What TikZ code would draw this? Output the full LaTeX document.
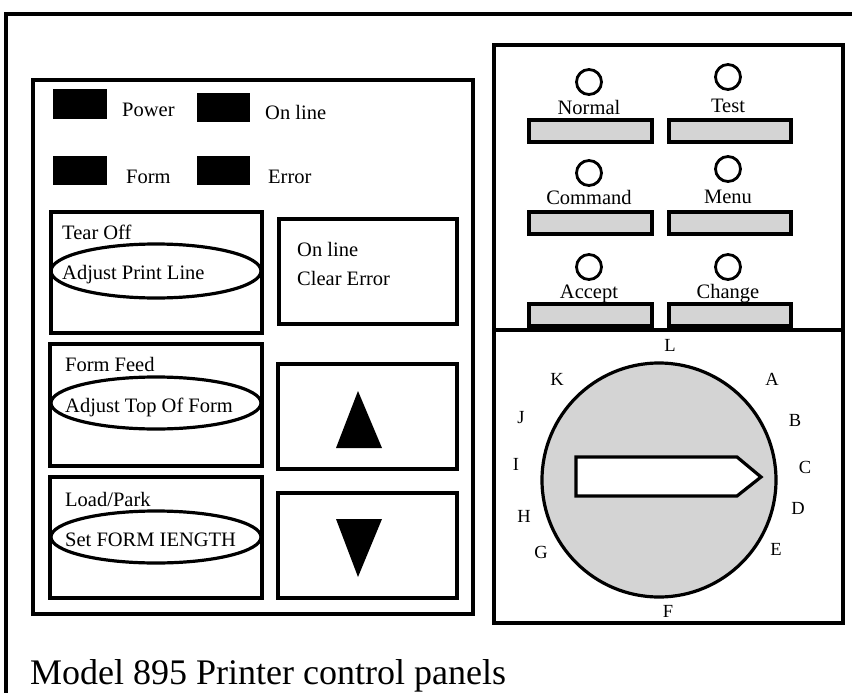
\documentclass[tikz,border=0pt]{standalone}
\usepackage{fontspec}
\setmainfont{Liberation Serif}
\begin{document}
\begin{tikzpicture}[x=1pt,y=-1pt,
  frame/.style={draw=black,line width=3.2pt},
  lamp/.style={fill=black},
  lbl/.style={font=\fontsize{20.5}{20.5}\selectfont,inner sep=0pt},
  dl/.style={font=\fontsize{18.5}{18.5}\selectfont,inner sep=0pt},
  bar/.style={draw=black,line width=3.2pt,fill=black!17},
  led/.style={draw=black,line width=2.8pt}]
\useasboundingbox (0,0) rectangle (852,693);
\clip (0,0) rectangle (852,693);
% outer frame
\draw[frame] (6,14) rectangle (880,720);
% left panel
\draw[frame] (33,80) rectangle (473,614);
\fill[lamp] (53,89) rectangle (107,119);
\fill[lamp] (197,93) rectangle (250,122);
\fill[lamp] (53,156) rectangle (107,185);
\fill[lamp] (197,156) rectangle (250,185);
\node[lbl,anchor=base west] (power) at (122,117) {Power};
\node[lbl,anchor=base west] (online) at (265,119) {On line};
\node[lbl,anchor=base west] (form) at (126,183) {Form};
\node[lbl,anchor=base west] (error) at (268,183) {Error};
% Tear off
\draw[frame] (51,212) rectangle (262,333);
\node[lbl,anchor=base west] (tear) at (62,239) {Tear Off};
\draw[frame] (156,271) ellipse [x radius=105, y radius=27];
\node[lbl,anchor=base west] (adjpl) at (62,279) {Adjust Print Line};
% online clear error
\draw[frame] (279,219) rectangle (457,324);
\node[lbl,anchor=base west] (ol2) at (297,256) {On line};
\node[lbl,anchor=base west] (ce) at (297,285) {Clear Error};
% form feed
\draw[frame] (50,344) rectangle (262,466);
\node[lbl,anchor=base west] (ff) at (65,371) {Form Feed};
\draw[frame] (156,403) ellipse [x radius=105, y radius=26];
\node[lbl,anchor=base west] (atf) at (65,412) {Adjust Top Of Form};
% up box
\draw[frame] (278,364) rectangle (457,469);
\fill (358,391) -- (382,448) -- (336,448) -- cycle;
% load park
\draw[frame] (50,477) rectangle (262,598);
\node[lbl,anchor=base west] (lp) at (65,506) {Load/Park};
\draw[frame] (156,537) ellipse [x radius=105, y radius=26];
\node[lbl,anchor=base west] (sfl) at (65,546) {Set FORM IENGTH};
% down box
\draw[frame] (278,493) rectangle (457,598);
\fill (336,519) -- (382,519) -- (358,577) -- cycle;
% right panel
\draw[frame] (494,45) rectangle (843,623);
\draw[frame] (494,330) -- (843,330);
% leds
\draw[led] (589,82) circle [radius=12.5];
\draw[led] (728,77) circle [radius=12.5];
\draw[led] (589,173) circle [radius=12.5];
\draw[led] (728,169) circle [radius=12.5];
\draw[led] (589,267) circle [radius=12.5];
\draw[led] (728,267) circle [radius=12.5];
\node[lbl,anchor=base] (normal) at (589,114) {Normal};
\node[lbl,anchor=base] (test) at (728,113) {Test};
\node[lbl,anchor=base] (command) at (589,204) {Command};
\node[lbl,anchor=base] (menu) at (728,203) {Menu};
\node[lbl,anchor=base] (accept) at (589,298) {Accept};
\node[lbl,anchor=base] (change) at (728,298) {Change};
\draw[bar] (529,120) rectangle (652,142);
\draw[bar] (669,120) rectangle (791,142);
\draw[bar] (529,212) rectangle (652,234);
\draw[bar] (669,212) rectangle (791,234);
\draw[bar] (529,304) rectangle (652,326);
\draw[bar] (669,304) rectangle (791,326);
% dial
\draw[frame,fill=black!17] (659,480) circle [radius=117];
\draw[frame,fill=white,line join=miter] (576,457) -- (737,457) -- (761,477) -- (737,496) -- (576,496) -- cycle;
\node[dl] (L) at (670,345) {L};
\node[dl] (A) at (772,379) {A};
\node[dl] (B) at (795,420) {B};
\node[dl] (C) at (805,467) {C};
\node[dl] (D) at (798,508) {D};
\node[dl] (E) at (776,549) {E};
\node[dl] (F) at (668,611) {F};
\node[dl] (G) at (541,552) {G};
\node[dl] (H) at (524,516) {H};
\node[dl] (I) at (516,464) {I};
\node[dl] (J) at (521,418) {J};
\node[dl] (K) at (557,379) {K};
% caption
\node[font=\fontsize{36}{36}\selectfont,inner sep=0pt,anchor=base west] (cap) at (30,684) {Model 895 Printer control panels};
\end{tikzpicture}
\end{document}
